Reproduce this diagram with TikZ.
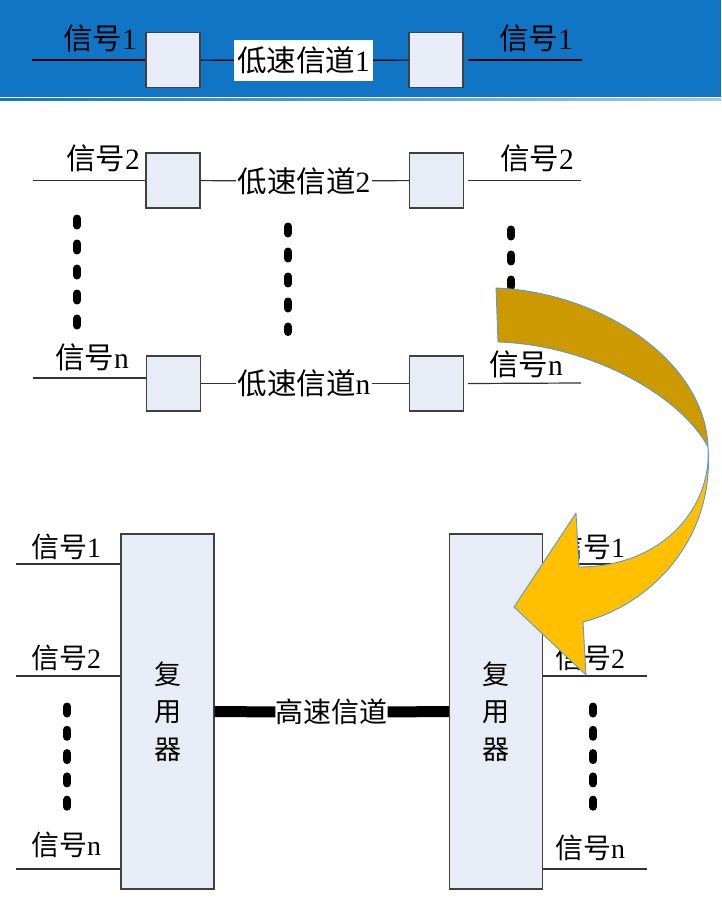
\documentclass[tikz,border=0pt]{standalone}
\usepackage{fontspec}
\setmainfont{Liberation Serif}
\newfontfamily\cjk{Noto Sans CJK SC}
\usetikzlibrary{arrows.meta,positioning,calc}
\definecolor{MXblue}{RGB}{17,117,197}
\definecolor{MXlight}{RGB}{160,200,232}
\definecolor{MXbox}{RGB}{231,236,247}
\definecolor{MXframe}{RGB}{64,64,64}
\definecolor{MXgold}{RGB}{204,153,0}
\definecolor{MXyellow}{RGB}{255,192,0}
\definecolor{MXedge}{RGB}{91,155,213}
\newcommand{\xinhao}[1]{{\cjk 信号}#1}
\newcommand{\disu}[1]{{\cjk 低速信道}#1}
\tikzset{
  cell/.style={draw=MXframe,line width=1.1pt,fill=MXbox,
               minimum width=54pt,minimum height=55pt,inner sep=0pt},
  mux/.style={draw=MXframe,line width=1.1pt,fill=MXbox,align=center,
              minimum width=93pt,minimum height=355pt,inner sep=0pt,
              font=\cjk\fontsize{27}{37.5}\selectfont},
  lbl/.style={inner sep=0pt,font=\fontsize{29.5}{34}\selectfont},
  lbs/.style={inner sep=0pt,font=\fontsize{28}{32}\selectfont},
  chan/.style={inner sep=1.5pt,font=\fontsize{29.5}{34}\selectfont},
  sig/.style={line width=1.2pt,draw=black!80},
  bar/.style={line width=11pt,draw=black},
  dotcol/.style={line width=8pt,line cap=round,draw=black,dash pattern=on 7pt off 18pt},
  twist/.style={draw=MXedge,line width=0.9pt,line join=round}
}
\begin{document}
\begin{tikzpicture}[x=1pt,y=-1pt]
  \useasboundingbox (0,0) rectangle (721,904);
  \fill[MXblue] (0,0) rectangle (721,97);
  \shade[left color=MXblue,right color=MXlight] (0,99) rectangle (721,100.5);

  \node[cell] (a1) at (173,60) {};
  \node[cell] (b1) at (436,60) {};
  \node[chan,fill=white,minimum width=139pt,minimum height=41pt] (c1) at (303.5,60.5) {\disu{1}};
  \node[lbl] (sa1) at (100,38) {\xinhao{1}};
  \node[lbl] (sb1) at (536,38) {\xinhao{1}};
  \coordinate (l1) at (32,60);
  \coordinate (r1) at (582,60);
  \draw[sig,draw=black] (l1) -- (a1);
  \draw[sig,draw=black] (a1) -- (c1) -- (b1);
  \draw[sig,draw=black] ([xshift=4pt]b1.east) -- (r1);

  \node[cell] (a2) at (173,180.5) {};
  \node[cell] (b2) at (436.5,180.5) {};
  \node[chan] (c2) at (304,181) {\disu{2}};
  \node[lbl] (sa2) at (103,158) {\xinhao{2}};
  \node[lbl] (sb2) at (537,158) {\xinhao{2}};
  \coordinate (l2) at (33,180.5);
  \coordinate (r2) at (581,180.5);
  \draw[sig] (l2) -- (a2);
  \draw[sig] (a2) -- (c2) -- (b2);
  \draw[sig] ([xshift=4pt]b2.east) -- (r2);

  \node[cell] (an) at (173.5,383.5) {};
  \node[cell] (bn) at (436.5,383.5) {};
  \node[chan] (cn) at (304,383.5) {\disu{n}};
  \node[lbl] (san) at (92,357) {\xinhao{n}};
  \node[lbl] (sbn) at (526,364) {\xinhao{n}};
  \coordinate (ln) at (33,378);
  \coordinate (rn) at (581,383);
  \draw[sig] (ln) -- (ln -| an.west);
  \draw[sig] (an) -- (cn) -- (bn);
  \draw[sig] ([xshift=4pt]bn.east) -- (rn);

  \draw[dotcol] (77,218.5) -- (77,327);
  \draw[dotcol] (288,226.5) -- (288,332);
  \draw[dotcol] (511,229.5) -- (511,300);

  \node[mux] (mL) at (167.5,711.5) {复\\用\\器};
  \node[mux] (mR) at (496,711.5) {复\\用\\器};
  \node[lbs] (hs) at (331.5,712) {\cjk 高速信道};
  \draw[bar] (mL) -- (hs) -- (mR);

  \coordinate (p1) at (16,564);
  \coordinate (p2) at (16,676);
  \coordinate (pn) at (16,869);
  \coordinate (q1) at (647,564);
  \coordinate (q2) at (647,676);
  \coordinate (qn) at (647,869);
  \draw[sig] (p1) -- (p1 -| mL.west);
  \draw[sig] (p2) -- (p2 -| mL.west);
  \draw[sig] (pn) -- (pn -| mL.west);
  \draw[sig] (q1 -| mR.east) -- (q1);
  \draw[sig] (q2 -| mR.east) -- (q2);
  \draw[sig] (qn -| mR.east) -- (qn);
  \node[lbs] (ta1) at (66,547) {\xinhao{1}};
  \node[lbs] (ta2) at (66,658) {\xinhao{2}};
  \node[lbs] (tan) at (66,845) {\xinhao{n}};
  \node[lbs] (tb1) at (590,547) {\xinhao{1}};
  \node[lbs] (tb2) at (590,658) {\xinhao{2}};
  \node[lbs] (tbn) at (590,848) {\xinhao{n}};
  \draw[dotcol,dash pattern=on 7pt off 16.3pt] (67,706.5) -- (67,810);
  \draw[dotcol,dash pattern=on 7pt off 16.3pt] (593,706.5) -- (593,810);

  \filldraw[twist,fill=MXgold] (496,288) .. controls (600,292) and (705,360) .. (708,447)
    .. controls (680,395) and (590,345) .. (498,342) -- cycle;
  \filldraw[twist,fill=MXyellow] (708,447) .. controls (715,540) and (650,605) .. (583,622)
    -- (586,675) -- (514,607) -- (576,513) -- (579,567)
    .. controls (660,567) and (712,510) .. (708,447) -- cycle;
\end{tikzpicture}
\end{document}
